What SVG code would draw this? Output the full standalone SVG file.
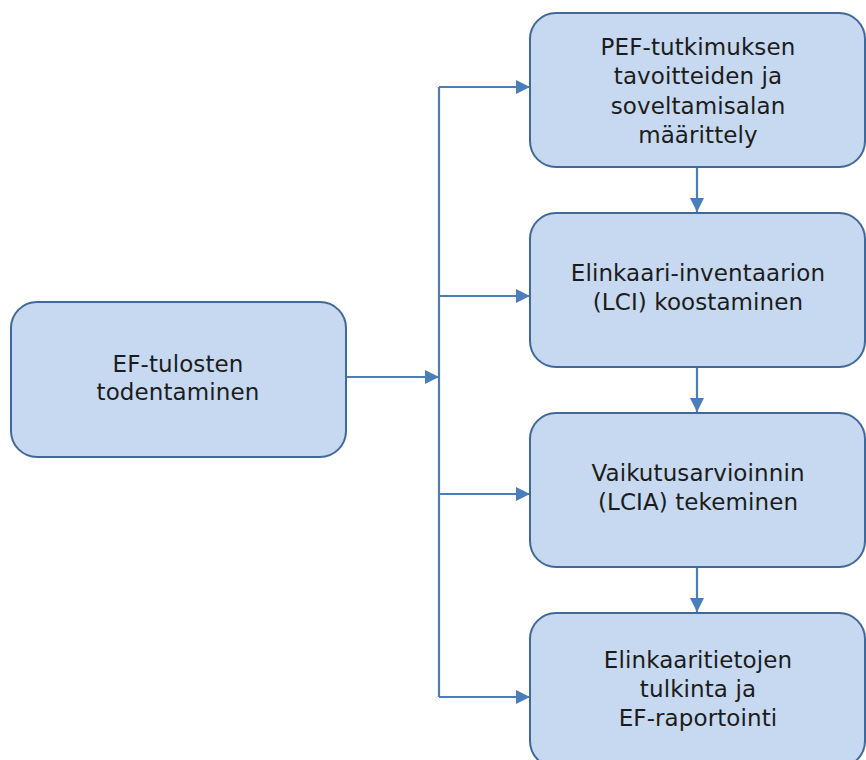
<svg xmlns="http://www.w3.org/2000/svg" width="866" height="760" viewBox="0 0 866 760">
  <defs>
    <style>
      .box { fill: #c6d9f0; stroke: #41689b; stroke-width: 2; }
      .lbl { font-family: "DejaVu Sans", Verdana, sans-serif; font-size: 23px; letter-spacing: 0.1px; fill: #1c1c1c; text-anchor: middle; }
      .link { fill: none; stroke: #4a7ebb; stroke-width: 2.2; }
    </style>
    <marker id="arrow" viewBox="0 0 14 14" refX="14" refY="7" markerWidth="14" markerHeight="14" markerUnits="userSpaceOnUse" orient="auto">
      <path d="M0,0 L14,7 L0,14 Z" fill="#4a7ebb"/>
    </marker>
  </defs>
  <rect width="866" height="760" fill="#ffffff"/>

  <g id="connectors">
    <path class="link" d="M439,87 L439,697"/>
    <path class="link" d="M347,377 L439,377" marker-end="url(#arrow)"/>
    <path class="link" d="M439,87 L530,87" marker-end="url(#arrow)"/>
    <path class="link" d="M439,296 L530,296" marker-end="url(#arrow)"/>
    <path class="link" d="M439,494 L530,494" marker-end="url(#arrow)"/>
    <path class="link" d="M439,697 L530,697" marker-end="url(#arrow)"/>
    <path class="link" d="M697,167 L697,212" marker-end="url(#arrow)"/>
    <path class="link" d="M697,367 L697,412" marker-end="url(#arrow)"/>
    <path class="link" d="M697,567 L697,612" marker-end="url(#arrow)"/>
  </g>

  <g id="node-verification">
    <rect class="box" x="11" y="302" width="335" height="155" rx="26"/>
    <text class="lbl" x="178" y="372">EF-tulosten</text>
    <text class="lbl" x="178" y="400">todentaminen</text>
  </g>

  <g id="node-goal-scope">
    <rect class="box" x="530" y="13" width="335" height="154" rx="26"/>
    <text class="lbl" x="698" y="55">PEF-tutkimuksen</text>
    <text class="lbl" x="698" y="84">tavoitteiden ja</text>
    <text class="lbl" x="698" y="114">soveltamisalan</text>
    <text class="lbl" x="698" y="143">määrittely</text>
  </g>

  <g id="node-lci">
    <rect class="box" x="530" y="213" width="335" height="154" rx="26"/>
    <text class="lbl" x="698" y="281">Elinkaari-inventaarion</text>
    <text class="lbl" x="698" y="310">(LCI) koostaminen</text>
  </g>

  <g id="node-lcia">
    <rect class="box" x="530" y="413" width="335" height="154" rx="26"/>
    <text class="lbl" x="698" y="481">Vaikutusarvioinnin</text>
    <text class="lbl" x="698" y="510">(LCIA) tekeminen</text>
  </g>

  <g id="node-interpretation">
    <rect class="box" x="530" y="613" width="335" height="154" rx="26"/>
    <text class="lbl" x="698" y="668">Elinkaaritietojen</text>
    <text class="lbl" x="698" y="697">tulkinta ja</text>
    <text class="lbl" x="698" y="726">EF-raportointi</text>
  </g>
</svg>
